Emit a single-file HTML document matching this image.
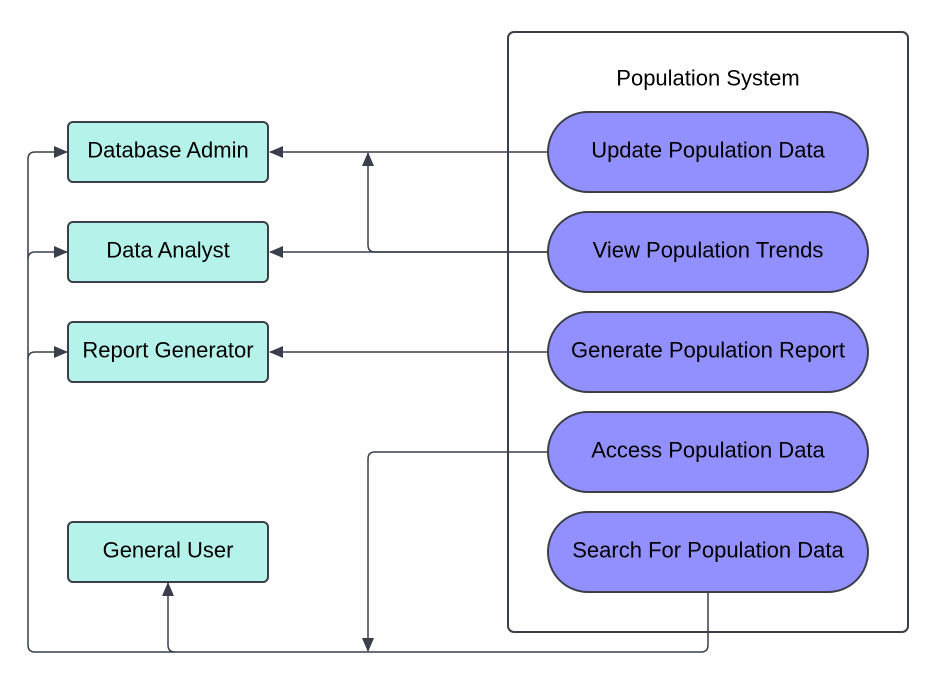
<!DOCTYPE html>
<html><head><style>body{margin:0;background:#fff}svg{display:block}text{font-family:"Liberation Sans",sans-serif;font-size:22px;fill:#000;text-anchor:middle;dominant-baseline:central}</style></head>
<body>
<svg width="948" height="692" viewBox="0 0 948 692">
<defs><marker id="a" markerWidth="14" markerHeight="12" refX="13" refY="6" orient="auto" markerUnits="userSpaceOnUse"><path d="M0,0 L14,6 L0,12 Z" fill="#3a3f4b"/></marker></defs>
<rect x="508" y="32" width="400" height="600" rx="6" fill="#fff" stroke="#3a3f4b" stroke-width="2"/>
<text x="708" y="78">Population System</text>
<g fill="none" stroke="#3a3f4b" stroke-width="1.5">
<path d="M548 152 H270" marker-end="url(#a)"/>
<path d="M548 252 H375 Q368 252 368 245 V153" marker-end="url(#a)"/>
<path d="M548 252 H270" marker-end="url(#a)"/>
<path d="M548 352 H270" marker-end="url(#a)"/>
<path d="M548 452 H375 Q368 452 368 459 V651" marker-end="url(#a)"/>
<path d="M708 592 V645 Q708 652 701 652 H35 Q28 652 28 645 V159 Q28 152 35 152 H67" marker-end="url(#a)"/>
<path d="M28 259 Q28 252 35 252 H67" marker-end="url(#a)"/>
<path d="M28 359 Q28 352 35 352 H67" marker-end="url(#a)"/>
<path d="M175 652 Q168 652 168 645 V583" marker-end="url(#a)"/>
</g>
<g fill="#b5f3ea" stroke="#3a3f4b" stroke-width="2">
<rect x="68" y="122" width="200" height="60" rx="5"/>
<rect x="68" y="222" width="200" height="60" rx="5"/>
<rect x="68" y="322" width="200" height="60" rx="5"/>
<rect x="68" y="522" width="200" height="60" rx="5"/>
</g>
<text x="168" y="150">Database Admin</text>
<text x="168" y="250">Data Analyst</text>
<text x="168" y="350">Report Generator</text>
<text x="168" y="550">General User</text>
<g fill="#9290fe" stroke="#3a3f4b" stroke-width="2">
<rect x="548" y="112" width="320" height="80" rx="40"/>
<rect x="548" y="212" width="320" height="80" rx="40"/>
<rect x="548" y="312" width="320" height="80" rx="40"/>
<rect x="548" y="412" width="320" height="80" rx="40"/>
<rect x="548" y="512" width="320" height="80" rx="40"/>
</g>
<text x="708" y="150">Update Population Data</text>
<text x="708" y="250">View Population Trends</text>
<text x="708" y="350">Generate Population Report</text>
<text x="708" y="450">Access Population Data</text>
<text x="708" y="550">Search For Population Data</text>
</svg>
</body></html>
